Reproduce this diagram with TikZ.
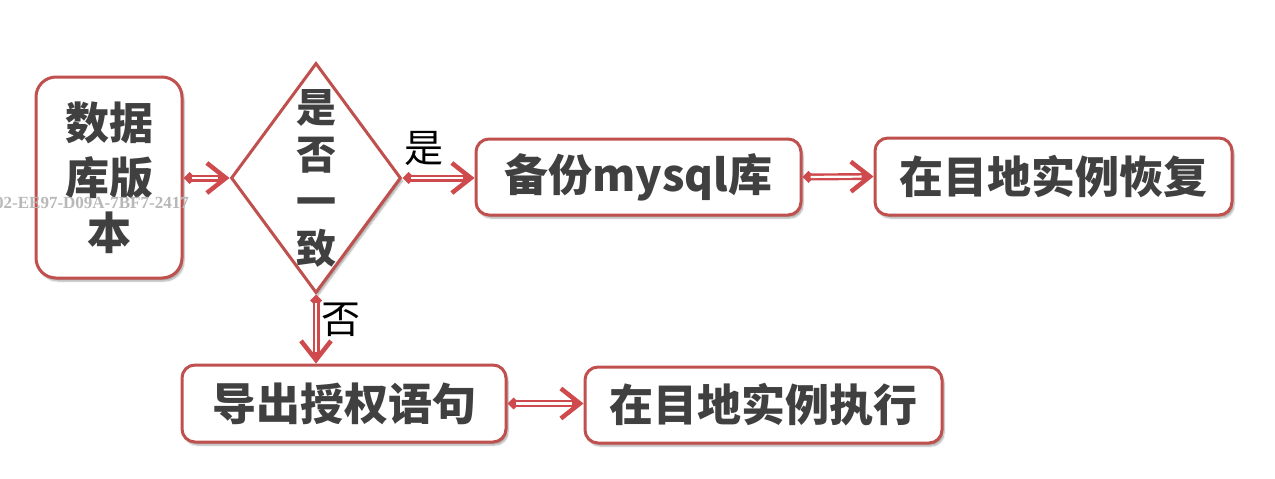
\documentclass[tikz,border=0pt]{standalone}
\usepackage{fontspec}
\newfontfamily\cjk{Noto Sans CJK SC}
\newfontfamily\wmfont{Liberation Serif}
\usetikzlibrary{shapes.geometric,arrows.meta,shadows.blur}
\definecolor{edgered}{RGB}{192,80,77}
\definecolor{arrowred}{RGB}{206,74,76}
\definecolor{ink}{RGB}{64,64,64}

\begin{document}
\begin{tikzpicture}[x=1pt,y=-1pt,
  softshadow/.style={blur shadow={shadow xshift=2pt, shadow yshift=-3pt,
      shadow blur steps=6, shadow opacity=35}},
  box/.style={draw=edgered, line width=3pt, fill=white, rounded corners=13pt,
      inner sep=0pt, text=ink, align=center,
      font=\cjk\bfseries\fontsize{44}{55}\selectfont, softshadow},
  decision/.style={shape=diamond, draw=edgered, line width=3pt, fill=white,
      minimum width=170pt, minimum height=230pt, inner sep=0pt, softshadow},
  vtext/.style={text=ink, align=center, inner sep=0pt,
      font=\cjk\bfseries\fontsize{40}{47}\selectfont},
  lab/.style={text=black, inner sep=0pt, font=\cjk\fontsize{39}{39}\selectfont},
  link/.style={draw=arrowred, line width=7pt,
      {Diamond[length=12pt,width=12pt,line width=0pt]}-{Straight Barb[length=19pt,width=30pt,line width=4.5pt]},
      postaction={draw=white, line width=2.2pt, arrows=-, shorten <=8pt, shorten >=12pt}},
  wm/.style={text=black!28, inner sep=0pt, font=\wmfont\bfseries\fontsize{17}{17}\selectfont}
]
\useasboundingbox (0,0) rectangle (1275,479);

% flow boxes
\node[box, rounded corners=20pt, minimum width=146pt, minimum height=201pt]
  (ver) at (109,177.5) {数据\\库版\\本};
\node[decision] (same) at (316,178) {};
\node[vtext] (sametxt) at (same.center) {是\\否\\一\\致};
\node[box, minimum width=325pt, minimum height=76pt] (backup) at (638.5,177) {备份mysql库};
\node[box, minimum width=357pt, minimum height=77pt] (restore) at (1053.5,176.5) {在目地实例恢复};
\node[box, minimum width=324pt, minimum height=77pt] (export) at (344,403.5) {导出授权语句};
\node[box, minimum width=357pt, minimum height=76pt] (run) at (763.5,405) {在目地实例执行};

% connectors
\draw[link] (ver.east |- same.west) -- (same.west);
\draw[link] (same.east) -- (backup.west |- same.east);
\draw[link] (backup.east) -- (restore.west);
\draw[link] (same.south) -- (same.south |- export.north);
\draw[link] (export.east) -- (run.west |- export.east);

% branch labels
\node[lab] (yes) at (424,148) {是};
\node[lab] (no) at (341,320) {否};

% serial stamp
\node[wm, anchor=east] (stamp) at (189,203) {02-EE97-D09A-7BF7-2417};
\end{tikzpicture}
\end{document}
